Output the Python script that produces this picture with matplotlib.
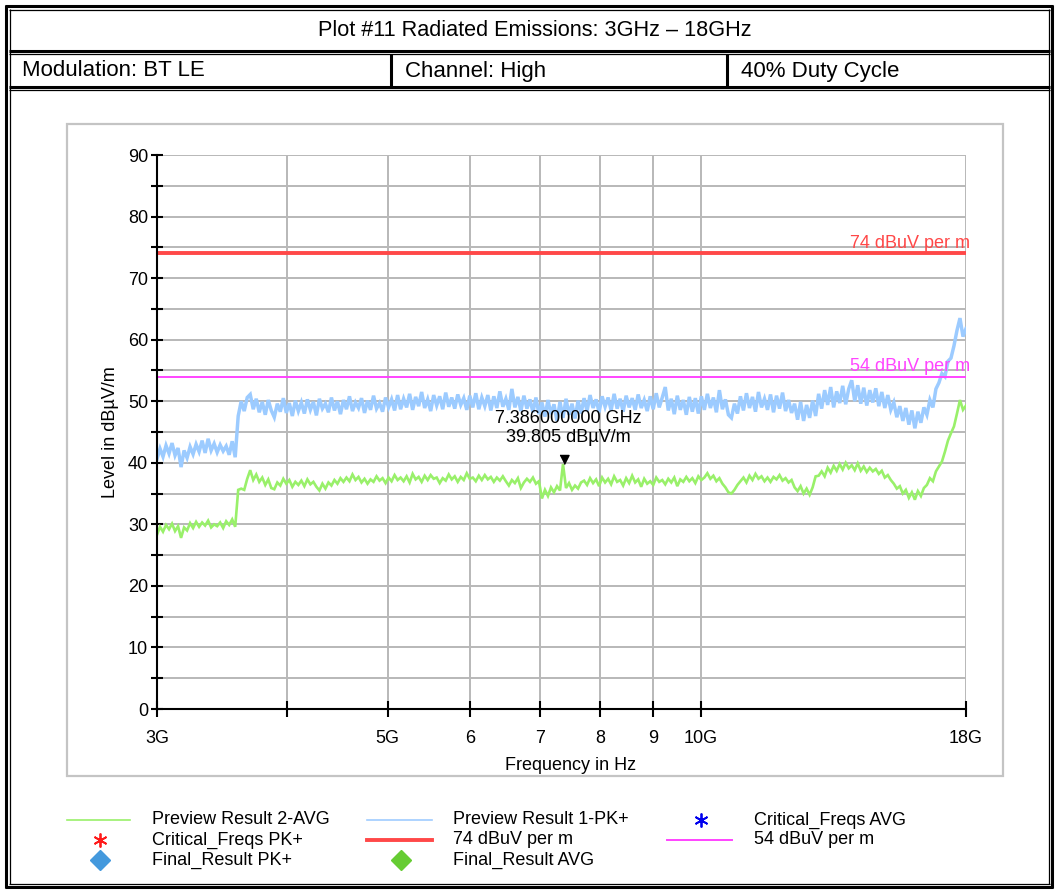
import matplotlib
matplotlib.use("Agg")
import matplotlib.pyplot as plt
import numpy as np
from matplotlib import font_manager
from matplotlib.lines import Line2D
from matplotlib.patches import Rectangle

# ---------------- data ----------------
title = "Plot #11 Radiated Emissions: 3GHz \u2013 18GHz"
header_cells = ["Modulation: BT LE", "Channel: High", "40% Duty Cycle"]

f_start, f_stop = 3e9, 18e9

pk_level = [
    40.6, 42.3, 41.0, 42.8, 41.5, 43.2, 41.2, 42.4, 39.3, 42.0, 40.8, 42.6, 41.4, 43.0, 41.8, 43.6,
    41.6, 43.9, 42.0, 43.1, 41.7, 42.9, 41.9, 42.7, 41.3, 43.5, 40.9,
    47.6,
    50.0, 48.4, 50.6, 51.1, 48.7, 50.4, 48.2,
    49.9, 47.8, 50.2, 48.5, 47.4, 49.6, 48.3, 50.5, 48.1, 49.7, 47.6, 50.1, 48.4,
    49.8, 48.0, 50.3, 48.6, 49.9, 47.7, 50.4, 48.8, 49.6, 48.2, 50.6, 48.5, 50.0, 47.9, 50.2, 48.7,
    50.8, 48.4, 49.8, 48.9, 50.5, 48.1, 50.1, 48.6, 50.9, 48.8, 49.7, 48.3, 50.6, 49.0, 50.3, 48.5,
    51.0, 48.7,
    50.4, 49.0, 51.2, 48.6, 50.7, 49.2, 51.5, 48.9, 50.3, 48.4, 51.0, 49.3, 50.8, 48.7, 51.4, 49.1,
    50.6, 48.8, 51.1, 49.4, 50.5, 48.6, 50.9,
    49.0, 51.3, 48.7, 50.6, 49.2, 51.0, 48.5, 50.8, 48.9, 51.6, 49.1, 50.4, 48.6, 52.0, 49.0, 50.7,
    48.4, 50.9, 48.8, 50.3, 48.2, 50.6, 47.9,
    49.8, 47.5, 50.2, 47.9, 49.5, 46.8, 49.9, 47.3, 50.4, 47.8, 49.6, 47.2, 50.1, 48.0,
    50.5, 48.4, 51.0, 48.9, 50.3, 48.2, 50.8, 49.1, 50.6, 48.5, 51.2, 48.8, 50.4, 48.3, 50.9, 49.0,
    50.5, 48.6, 51.1, 48.9, 50.2, 48.4, 50.8, 48.7, 51.3, 49.0, 50.6,
    52.3, 48.5, 50.4, 47.9, 50.9, 48.6, 50.2, 47.8, 50.7, 48.3, 50.5, 48.0, 50.8,
    48.6, 51.2, 48.9, 50.6, 48.2, 51.8, 48.7, 50.3, 47.8, 47.3, 49.6, 48.0, 50.8, 48.5, 51.3, 48.9,
    50.7, 48.3, 51.5, 49.0, 50.4, 48.6, 51.1, 48.2, 50.9, 48.8, 51.4, 48.4, 50.2, 48.1,
    49.6, 47.0, 49.9, 46.8, 49.4, 47.3, 50.1, 47.6,
    51.2, 48.8, 51.8, 49.4, 52.3, 49.0, 51.6, 49.7, 52.5, 49.5, 52.0, 53.4, 50.0, 52.6, 49.6, 52.2,
    49.3, 51.8, 49.8, 52.1, 49.2, 51.5, 48.9, 51.0, 48.6,
    49.8, 47.4, 49.2, 46.8, 48.9, 46.2, 48.5, 45.6, 48.3, 46.5, 49.0,
    47.8, 50.2, 49.0, 52.0, 53.0, 54.5, 54.0, 56.5, 57.0, 59.0, 61.5, 63.5, 60.5, 61.8,
]

avg_level = [
    28.3, 29.6, 28.8, 29.9, 29.2, 30.1, 28.9, 29.7, 27.8, 29.5, 29.0, 30.2, 29.4, 30.4, 29.6, 30.3,
    29.8, 30.6, 29.5, 30.0, 29.7, 30.3, 29.4, 30.5, 29.9, 30.8, 29.6,
    35.6,
    35.8, 35.6, 37.4, 38.8, 37.2, 38.1, 36.9,
    37.6, 36.4, 37.3, 35.9, 35.7, 36.8, 36.3, 37.4, 36.6, 37.2, 36.1, 36.9, 36.4,
    37.1, 36.2, 37.3, 36.5, 36.9, 36.1, 35.5, 36.6, 35.8, 36.8, 36.3, 37.2, 36.6, 37.5, 36.9, 37.6,
    37.0, 38.1, 37.2, 37.7, 36.8, 37.4, 36.6, 37.3, 36.9, 37.8, 37.1, 37.5, 36.7, 37.6, 37.0, 38.0,
    37.2, 37.6,
    37.0, 37.8, 36.8, 38.2, 37.3, 37.7, 36.9, 37.9, 37.2, 38.0, 37.4, 37.6, 36.7, 37.5, 37.1, 38.1,
    37.3, 37.8, 36.9, 37.7, 37.2, 38.3, 37.4,
    37.6, 37.0, 37.9, 37.2, 38.0, 37.3, 37.7, 36.9, 37.6, 37.1, 37.8, 37.0, 36.3, 37.2, 36.7, 37.5,
    35.9, 36.8, 37.4, 36.9, 37.6, 36.6, 37.0,
    34.2, 35.6, 34.6, 36.0, 35.2, 36.2, 35.5, 39.8, 35.9, 36.7, 35.6, 36.3, 35.8, 36.8,
    37.1, 36.4, 37.5, 36.7, 37.3, 36.2, 37.6, 36.8, 37.4, 36.5, 37.8, 36.9, 37.2, 36.3, 37.5, 36.7,
    37.9, 36.8, 37.3, 36.1, 37.4, 36.6, 37.0, 36.4, 37.6, 36.9, 37.2,
    36.5, 37.4, 36.8, 37.6, 36.2, 37.3, 36.9, 37.7, 37.0, 37.5, 36.7, 37.8, 37.2,
    37.6, 38.3, 37.4, 37.9, 37.0, 37.5, 36.6, 36.0, 35.2, 35.0, 35.6, 36.4, 37.0, 37.6, 36.8, 37.9,
    37.2, 38.2, 37.4, 37.8, 37.0, 37.6, 36.9, 37.7, 37.3, 38.0, 37.1, 37.5, 36.8, 37.2,
    36.0, 35.4, 36.2, 35.0, 35.8, 34.8, 36.0, 37.8,
    37.9, 38.6, 37.8, 39.2, 38.4, 39.5, 38.7, 39.8, 38.9, 40.0, 39.1, 39.6, 38.8, 39.9, 38.7, 39.4,
    38.5, 39.2, 38.6, 39.0, 38.2, 38.7, 37.6, 38.0, 37.2,
    36.6, 35.8, 36.2, 35.0, 35.6, 34.3, 35.2, 34.0, 35.4, 34.6, 35.9,
    36.4, 37.5, 37.0, 38.6, 39.4, 40.2, 41.8, 43.6, 44.8, 45.9, 48.0, 50.2, 48.6, 49.3,
]

limit_pk = 74.0
limit_avg = 54.0
marker_freq = 7.386e9
marker_level = 39.805

x_ticks = [3e9, 4e9, 5e9, 6e9, 7e9, 8e9, 9e9, 10e9, 18e9]
x_ticklabels = ["3G", "", "5G", "6", "7", "8", "9", "10G", "18G"]
y_ticks = list(range(0, 91, 10))

legend_rows = [
    [("line", "#99f06a", 1.2, "Preview Result 2-AVG"),
     ("line", "#a0ccff", 1.2, "Preview Result 1-PK+"),
     ("ast", "#0000ee", 0, "Critical_Freqs AVG")],
    [("ast", "#ff1a1a", 0, "Critical_Freqs PK+"),
     ("line", "#ff4848", 2.8, "74 dBuV per m"),
     ("line", "#ff44ff", 1.4, "54 dBuV per m")],
    [("dia", "#4499dd", 0, "Final_Result PK+"),
     ("dia", "#66cc33", 0, "Final_Result AVG"),
     None],
]

# ---------------- fonts ----------------
names = {f.name for f in font_manager.fontManager.ttflist}
regular = "Liberation Sans" if "Liberation Sans" in names else "DejaVu Sans"
plt.rcParams["font.family"] = [regular, "DejaVu Sans"]
FS = 13

W, H = 1055, 890
fig = plt.figure(figsize=(W / 100, H / 100), dpi=100)
fig.patch.set_facecolor("white")

def fx(x):
    return x / W

def fy(y):
    return 1 - y / H

def hline(x0, x1, y, lw, color="black"):
    fig.add_artist(Line2D([fx(x0), fx(x1)], [fy(y), fy(y)], lw=lw, color=color,
                          transform=fig.transFigure, solid_capstyle="butt"))

def vline(x, y0, y1, lw, color="black"):
    fig.add_artist(Line2D([fx(x), fx(x)], [fy(y0), fy(y1)], lw=lw, color=color,
                          transform=fig.transFigure, solid_capstyle="butt"))

# table borders (double lines)
thick, thin = 2.2, 0.9
hline(5, 1053, 6, thick); hline(9, 1050, 9.5, thin)
hline(5, 1053, 887, thick); hline(9, 1050, 883.5, thin)
vline(6, 5, 888, thick); vline(9.5, 9, 884, thin)
vline(1052, 5, 888, thick); vline(1048.5, 9, 884, thin)
hline(9, 1050, 50.5, thick); hline(9, 1050, 54, thin)
hline(9, 1050, 86.5, thick); hline(9, 1050, 90, thin)
vline(391, 54, 86.5, thick)
vline(727, 54, 86.5, thick)

fig.text(fx(535), fy(31), title, fontsize=15.6, ha="center", va="center")
for xpos, txt in zip([22, 405, 741], header_cells):
    fig.text(fx(xpos), fy(71), txt, fontsize=16, ha="left", va="center")

# gray frame around plot
fig.add_artist(Rectangle((fx(67), fy(776)), (1003 - 67) / W, (776 - 124) / H, fill=False,
                         ec="#c4c4c4", lw=1.6, transform=fig.transFigure))

# ---------------- axes ----------------
ax = fig.add_axes([fx(157), fy(709), (966 - 157) / W, (709 - 155) / H])
freq = np.geomspace(f_start, f_stop, len(pk_level))
ax.set_xscale("log")
ax.set_xlim(f_start, f_stop)
ax.set_ylim(0, 90)

grid_c = "#b8b8b8"
for yv in range(5, 91, 5):
    ax.axhline(yv, color=grid_c, lw=1.4, zorder=0)
for xv in x_ticks[1:]:
    ax.axvline(xv, color=grid_c, lw=1.4, zorder=0)

ax.plot(freq, pk_level, color="#9ccbff", lw=2.5, zorder=3, solid_joinstyle="miter")
ax.plot(freq, avg_level, color="#99f06a", lw=1.9, zorder=4, solid_joinstyle="miter")
ax.axhline(limit_pk, color="#ff4848", lw=2.8, zorder=5)
ax.axhline(limit_avg, color="#ff44ff", lw=1.4, zorder=5)

ax.text(18.15e9, limit_pk + 0.3, "74 dBuV per m", color="#ff4848", fontsize=FS,
        ha="right", va="bottom", zorder=6)
ax.text(18.15e9, limit_avg + 0.3, "54 dBuV per m", color="#ff44ff", fontsize=FS,
        ha="right", va="bottom", zorder=6)

ax.plot([marker_freq], [marker_level], marker=[(-1, 2), (1, 2), (0, 0)], color="black",
        markersize=13, linestyle="none", zorder=7)
ax.annotate(f"{marker_freq / 1e9:.9f} GHz\n{marker_level:.3f} dB\u00b5V/m",
            xy=(marker_freq, marker_level), xytext=(3, 13), textcoords="offset points",
            ha="center", va="bottom", fontsize=FS, linespacing=1.15, zorder=7)

for s in ["top", "right"]:
    ax.spines[s].set_visible(False)
for s in ["left", "bottom"]:
    ax.spines[s].set_linewidth(1.5)
    ax.spines[s].set_zorder(8)

ax.set_xticks(x_ticks)
ax.set_xticklabels(x_ticklabels)
ax.xaxis.set_minor_locator(matplotlib.ticker.NullLocator())
ax.set_yticks(y_ticks)
ax.set_yticks(list(range(5, 90, 10)), minor=True)
ax.tick_params(axis="both", which="both", direction="inout", width=1.5, labelsize=FS)
ax.tick_params(axis="y", which="both", length=9, pad=2)
ax.tick_params(axis="x", which="major", length=11, pad=9.5)

ax.set_ylabel("Level in dB\u00b5V/m", fontsize=FS)
ax.yaxis.set_label_coords((119 - 157) / 809, 0.5)
ax.set_xlabel("Frequency in Hz", fontsize=FS)
ax.xaxis.set_label_coords((571 - 157) / 809, (709 - 757) / 554)

# ---------------- legend ----------------
col_x = [(67, 130, 152), (367, 432, 453), (667, 732, 754)]
row_y = [820, 840, 860]
for r, row in enumerate(row_y):
    for c, item in enumerate(legend_rows[r]):
        if item is None:
            continue
        kind, color, lw, label = item
        x0, x1, xt = col_x[c]
        if kind == "line":
            fig.add_artist(Line2D([fx(x0), fx(x1)], [fy(row), fy(row)], color=color, lw=lw,
                                  transform=fig.transFigure))
        elif kind == "ast":
            fig.add_artist(Line2D([fx((x0 + x1) / 2 + 1)], [fy(row)], color=color,
                                  marker=(6, 2, 0), markersize=10, mew=1.3, linestyle="none",
                                  transform=fig.transFigure))
        else:
            fig.add_artist(Line2D([fx((x0 + x1) / 2 + 1)], [fy(row)], color=color,
                                  marker="D", markersize=10, linestyle="none",
                                  transform=fig.transFigure))
        fig.text(fx(xt), fy(row), label, fontsize=FS, ha="left", va="center")

fig.savefig("out.png", dpi=100)
